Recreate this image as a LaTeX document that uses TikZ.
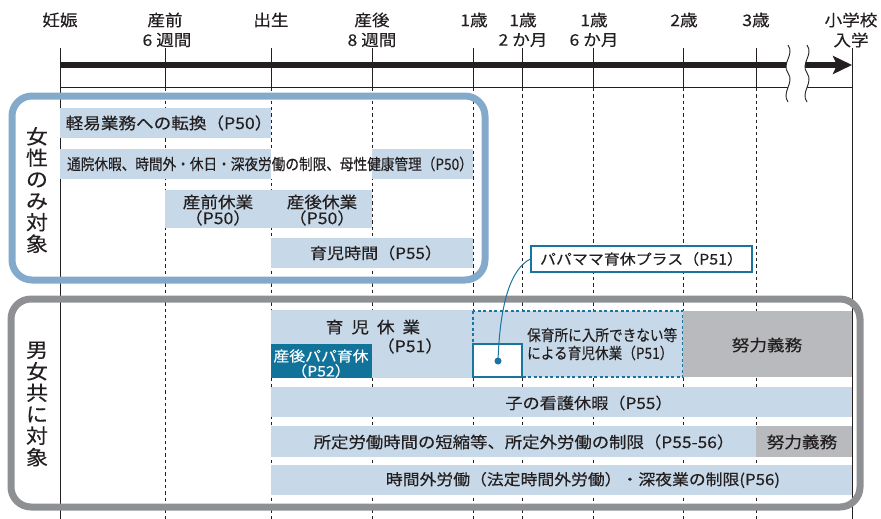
\documentclass[tikz,border=0pt]{standalone}
\usepackage{fontspec}
\setmainfont{Noto Sans CJK JP}[FakeStretch=1.1]
\newfontfamily\jpw{Noto Sans CJK JP}[FakeStretch=1.1,FakeBold=0.3]
\newfontfamily\jpc{Noto Sans CJK JP}[FakeStretch=0.88,FakeBold=0.3]
\usetikzlibrary{arrows.meta}
\definecolor{barblue}{HTML}{C7D9E8}
\definecolor{frameblue}{HTML}{84AACB}
\definecolor{framegray}{HTML}{8F9094}
\definecolor{dutygray}{HTML}{B9BABD}
\definecolor{tealc}{HTML}{1A74A0}
\definecolor{papablue}{HTML}{11729A}
\definecolor{ink}{HTML}{231F20}
\newcommand\fsz[1]{\fontsize{#1}{#1}\selectfont}
\begin{document}
\begin{tikzpicture}[x=1pt,y=-1pt,
  txt/.style={inner sep=0pt, text=ink},
  hdr/.style={txt, font=\jpw\fsz{16}},
  tick/.style={line width=1pt, ink},
  grid/.style={line width=0.8pt, ink, dash pattern=on 3.3pt off 3pt},
  bar/.style={fill=barblue},
  duty/.style={fill=dutygray},
  frameA/.style={draw=frameblue, line width=7pt, rounded corners=20pt},
  frameB/.style={draw=framegray, line width=7pt, rounded corners=20pt},
  vlab/.style={txt, align=center, font=\jpw\fontsize{20}{21.5}\selectfont}]
\useasboundingbox (0,0) rectangle (881,519);

% header texts
\node[hdr] (h1) at (60,20) {妊娠};
\node[hdr] (h2a) at (165,20) {産前};
\node[hdr] (h2b) at (167,40) {6 週間};
\node[hdr] (h3) at (271,20) {出生};
\node[hdr] (h4a) at (372,20) {産後};
\node[hdr] (h4b) at (372,40) {8 週間};
\node[hdr] (h5) at (474,20) {1歳};
\node[hdr] (h6a) at (523,20) {1歳};
\node[hdr] (h6b) at (523,40) {2 か月};
\node[hdr] (h7a) at (594,20) {1歳};
\node[hdr] (h7b) at (594,40) {6 か月};
\node[hdr] (h8) at (684,20) {2歳};
\node[hdr] (h9) at (756,20) {3歳};
\node[hdr] (h10a) at (851,20) {小学校};
\node[hdr] (h10b) at (851,40) {入学};

% grid lines
\foreach \x in {60,165,271,372,473,522,593,683,756,852}
  \draw[tick] (\x,48) -- (\x,88);
\foreach \x in {165,271,372,473,522,593,683,756}
  \draw[grid] (\x,88) -- (\x,519);
\draw[tick] (60,88) -- (60,519);
\draw[tick] (852,88) -- (852,519);
\draw[tick] (60,88) -- (852,88);

% timeline arrow
\draw[line width=6pt, ink, -{Stealth[length=19pt,width=18pt,inset=4pt]}] (60,65) -- (852,65);
% break marks
\fill[white] (788,45) .. controls (795,55) and (781,63) .. (788,73) .. controls (795,83) and (781,92) .. (788,102)
  -- (807,102) .. controls (800,92) and (814,83) .. (807,73) .. controls (800,63) and (814,55) .. (807,45) -- cycle;
\draw[line width=0.9pt, ink] (788,45) .. controls (795,55) and (781,63) .. (788,73) .. controls (795,83) and (781,92) .. (788,102);
\draw[line width=0.9pt, ink] (807,45) .. controls (814,55) and (800,63) .. (807,73) .. controls (814,83) and (800,92) .. (807,102);

% bars: women only
\fill[bar] (60,108) rectangle (271,138);
\fill[bar] (60,149) rectangle (473,179);
\fill[white] (271,149) rectangle (372,179);
\fill[bar] (165,190) rectangle (372,228);
\fill[bar] (271,238) rectangle (473,268);

% bars: both
\fill[bar] (271,310) rectangle (473,378);
\fill[papablue] (271,344) rectangle (372,378);
\fill[bar] (473,311) rectangle (683,377);
\draw[tealc, line width=1.3pt, dash pattern=on 3pt off 2.5pt] (473,311) rectangle (683,377);
\filldraw[fill=white, draw=tealc, line width=1.5pt] (473,344) rectangle (522,377);
\fill[duty] (683,311) rectangle (852,377);
\fill[bar] (271,387) rectangle (852,417);
\fill[bar] (271,426) rectangle (756,457);
\fill[duty] (756,426) rectangle (852,457);
\fill[bar] (271,465) rectangle (852,495);

% frames
\draw[frameA] (12,96) rectangle (485,280);
\draw[frameB] (11,299) rectangle (860,507);

% vertical labels
\node[vlab] (v1) at (37,190) {女\\性\\の\\み\\対\\象};
\node[vlab] (v2) at (37,404) {男\\女\\共\\に\\対\\象};

% bar texts
\node[txt, font=\jpw\fsz{16}] (t1) at (169,123) {軽易業務への転換（P50）};
\node[txt, font=\jpc\fsz{15.5}] (t2) at (270,164) {通院休暇、時間外・休日・深夜労働の制限、母性健康管理（P50）};
\node[txt, font=\jpw\fsz{16}] (t3a) at (218,202) {産前休業};
\node[txt, font=\jpw\fsz{16}] (t3b) at (218,218) {（P50）};
\node[txt, font=\jpw\fsz{16}] (t4a) at (322,202) {産後休業};
\node[txt, font=\jpw\fsz{16}] (t4b) at (322,218) {（P50）};
\node[txt, font=\jpw\fsz{15.5}] (t5) at (376,253) {育児時間（P55）};

\node[txt, font=\jpw\fsz{16}] (t6a) at (373,327) {育\hspace{0.5em}児\hspace{0.5em}休\hspace{0.5em}業};
\node[txt, font=\jpw\fsz{16}] (t6b) at (410,346) {（P51）};
\node[txt, text=white, font=\jpw\fsz{14.4}] (t7a) at (321,356) {産後パパ育休};
\node[txt, text=white, font=\jpw\fsz{14.4}] (t7b) at (321,371) {（P52）};
\node[txt, anchor=west, font=\jpc\fsz{15.5}] (t8a) at (527,335) {保育所に入所できない等};
\node[txt, anchor=west, font=\jpc\fsz{15.5}] (t8b) at (527,353) {による育児休業（P51）};
\node[txt, font=\jpw\fsz{16}] (t9) at (767,345) {努力義務};
\node[txt, font=\jpw\fsz{15.6}] (t10) at (589,403) {子の看護休暇（P55）};
\node[txt, font=\jpw\fsz{15.8}] (t11) at (524,442) {所定労働時間の短縮等、所定外労働の制限（P55-56）};
\node[txt, font=\jpw\fsz{16}] (t12) at (802,442) {努力義務};
\node[txt, font=\jpw\fsz{15.3}] (t13) at (583,480) {時間外労働（法定時間外労働）・深夜業の制限(P56)};

% callout
\node[draw=tealc, fill=white, line width=1.1pt, inner sep=1pt, minimum width=221pt, minimum height=26pt,
  text=ink, font=\jpw\fsz{14.5}] (lbl) at (641.5,259) {パパママ育休プラス（P51）};
\coordinate (dot) at (498,361);
\draw[tealc, line width=1pt] (dot) .. controls (500,300) and (512,268) .. (lbl.west);
\fill[tealc] (dot) circle[radius=3.5pt];
\end{tikzpicture}
\end{document}
